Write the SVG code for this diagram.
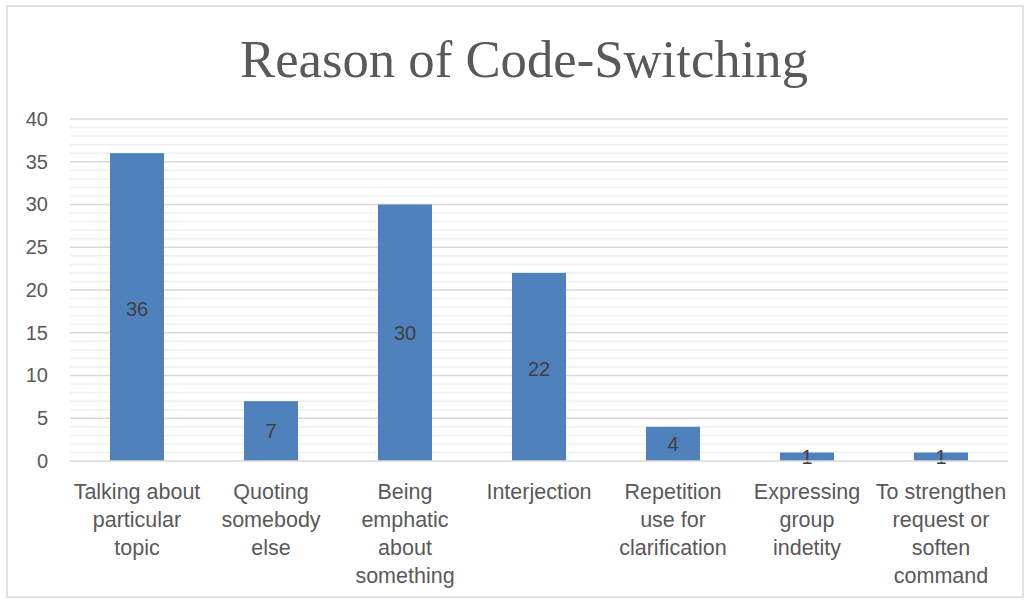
<svg xmlns="http://www.w3.org/2000/svg" width="1028" height="602" viewBox="0 0 1028 602">
<style>
.title{font-family:"Liberation Serif","DejaVu Serif",serif;font-size:52px;fill:#595959;text-anchor:middle}
.ax{font-family:"Liberation Sans","Open Sans",sans-serif;fill:#595959}
.yl{text-anchor:end;font-size:20px}
.xl{text-anchor:middle;font-size:21.5px}
.dl{font-family:"Liberation Sans","Open Sans",sans-serif;font-size:20px;fill:#404040;text-anchor:middle}
.maj{stroke:#d9d9d9;stroke-width:1.5}
.min{stroke:#f0f0f0;stroke-width:1.5}
.bar{fill:#4F81BD}
</style>
<rect x="0" y="0" width="1028" height="602" fill="#ffffff"/>
<rect x="7" y="6" width="1016" height="591" fill="#ffffff" stroke="#d9d9d9" stroke-width="1.5"/>
<text class="title" x="524" y="77" textLength="568" lengthAdjust="spacingAndGlyphs">Reason of Code-Switching</text>
<g id="gridlines">
<line class="min" x1="70" y1="127.6" x2="1008" y2="127.6"/><line class="min" x1="70" y1="136.1" x2="1008" y2="136.1"/><line class="min" x1="70" y1="144.7" x2="1008" y2="144.7"/><line class="min" x1="70" y1="153.2" x2="1008" y2="153.2"/>
<line class="min" x1="70" y1="170.3" x2="1008" y2="170.3"/><line class="min" x1="70" y1="178.9" x2="1008" y2="178.9"/><line class="min" x1="70" y1="187.4" x2="1008" y2="187.4"/><line class="min" x1="70" y1="196.0" x2="1008" y2="196.0"/>
<line class="min" x1="70" y1="213.1" x2="1008" y2="213.1"/><line class="min" x1="70" y1="221.6" x2="1008" y2="221.6"/><line class="min" x1="70" y1="230.2" x2="1008" y2="230.2"/><line class="min" x1="70" y1="238.7" x2="1008" y2="238.7"/>
<line class="min" x1="70" y1="255.8" x2="1008" y2="255.8"/><line class="min" x1="70" y1="264.4" x2="1008" y2="264.4"/><line class="min" x1="70" y1="272.9" x2="1008" y2="272.9"/><line class="min" x1="70" y1="281.5" x2="1008" y2="281.5"/>
<line class="min" x1="70" y1="298.6" x2="1008" y2="298.6"/><line class="min" x1="70" y1="307.1" x2="1008" y2="307.1"/><line class="min" x1="70" y1="315.7" x2="1008" y2="315.7"/><line class="min" x1="70" y1="324.2" x2="1008" y2="324.2"/>
<line class="min" x1="70" y1="341.3" x2="1008" y2="341.3"/><line class="min" x1="70" y1="349.9" x2="1008" y2="349.9"/><line class="min" x1="70" y1="358.4" x2="1008" y2="358.4"/><line class="min" x1="70" y1="367.0" x2="1008" y2="367.0"/>
<line class="min" x1="70" y1="384.1" x2="1008" y2="384.1"/><line class="min" x1="70" y1="392.6" x2="1008" y2="392.6"/><line class="min" x1="70" y1="401.2" x2="1008" y2="401.2"/><line class="min" x1="70" y1="409.7" x2="1008" y2="409.7"/>
<line class="min" x1="70" y1="426.8" x2="1008" y2="426.8"/><line class="min" x1="70" y1="435.4" x2="1008" y2="435.4"/><line class="min" x1="70" y1="443.9" x2="1008" y2="443.9"/><line class="min" x1="70" y1="452.5" x2="1008" y2="452.5"/>
<line class="maj" x1="70" y1="119" x2="1008" y2="119"/>
<line class="maj" x1="70" y1="161.75" x2="1008" y2="161.75"/>
<line class="maj" x1="70" y1="204.5" x2="1008" y2="204.5"/>
<line class="maj" x1="70" y1="247.25" x2="1008" y2="247.25"/>
<line class="maj" x1="70" y1="290" x2="1008" y2="290"/>
<line class="maj" x1="70" y1="332.75" x2="1008" y2="332.75"/>
<line class="maj" x1="70" y1="375.5" x2="1008" y2="375.5"/>
<line class="maj" x1="70" y1="418.25" x2="1008" y2="418.25"/>
</g>
<g id="y-axis">
<text class="ax yl" x="48" y="126">40</text>
<text class="ax yl" x="48" y="169">35</text>
<text class="ax yl" x="48" y="211">30</text>
<text class="ax yl" x="48" y="254">25</text>
<text class="ax yl" x="48" y="297">20</text>
<text class="ax yl" x="48" y="340">15</text>
<text class="ax yl" x="48" y="382">10</text>
<text class="ax yl" x="48" y="425">5</text>
<text class="ax yl" x="48" y="468">0</text>
</g>
<g id="bar1"><rect class="bar" x="110" y="153.2" width="54" height="307.8"/><text class="dl" x="137" y="316">36</text></g>
<g id="bar2"><rect class="bar" x="244" y="401.2" width="54" height="59.8"/><text class="dl" x="271" y="438">7</text></g>
<g id="bar3"><rect class="bar" x="378" y="204.5" width="54" height="256.5"/><text class="dl" x="405" y="340">30</text></g>
<g id="bar4"><rect class="bar" x="512" y="272.9" width="54" height="188.1"/><text class="dl" x="539" y="376">22</text></g>
<g id="bar5"><rect class="bar" x="646" y="426.8" width="54" height="34.2"/><text class="dl" x="673" y="451">4</text></g>
<g id="bar6"><rect class="bar" x="780" y="452.5" width="54" height="8.5"/><text class="dl" x="807" y="464">1</text></g>
<g id="bar7"><rect class="bar" x="914" y="452.5" width="54" height="8.5"/><text class="dl" x="941" y="464">1</text></g>
<line class="maj" x1="70" y1="461" x2="1008" y2="461"/>
<g id="x-axis">
<text class="ax xl" x="137" y="499">Talking about</text>
<text class="ax xl" x="137" y="527">particular</text>
<text class="ax xl" x="137" y="555">topic</text>
<text class="ax xl" x="271" y="499">Quoting</text>
<text class="ax xl" x="271" y="527">somebody</text>
<text class="ax xl" x="271" y="555">else</text>
<text class="ax xl" x="405" y="499">Being</text>
<text class="ax xl" x="405" y="527">emphatic</text>
<text class="ax xl" x="405" y="555">about</text>
<text class="ax xl" x="405" y="583">something</text>
<text class="ax xl" x="539" y="499">Interjection</text>
<text class="ax xl" x="673" y="499">Repetition</text>
<text class="ax xl" x="673" y="527">use for</text>
<text class="ax xl" x="673" y="555">clarification</text>
<text class="ax xl" x="807" y="499">Expressing</text>
<text class="ax xl" x="807" y="527">group</text>
<text class="ax xl" x="807" y="555">indetity</text>
<text class="ax xl" x="941" y="499">To strengthen</text>
<text class="ax xl" x="941" y="527">request or</text>
<text class="ax xl" x="941" y="555">soften</text>
<text class="ax xl" x="941" y="583">command</text>
</g>
</svg>
